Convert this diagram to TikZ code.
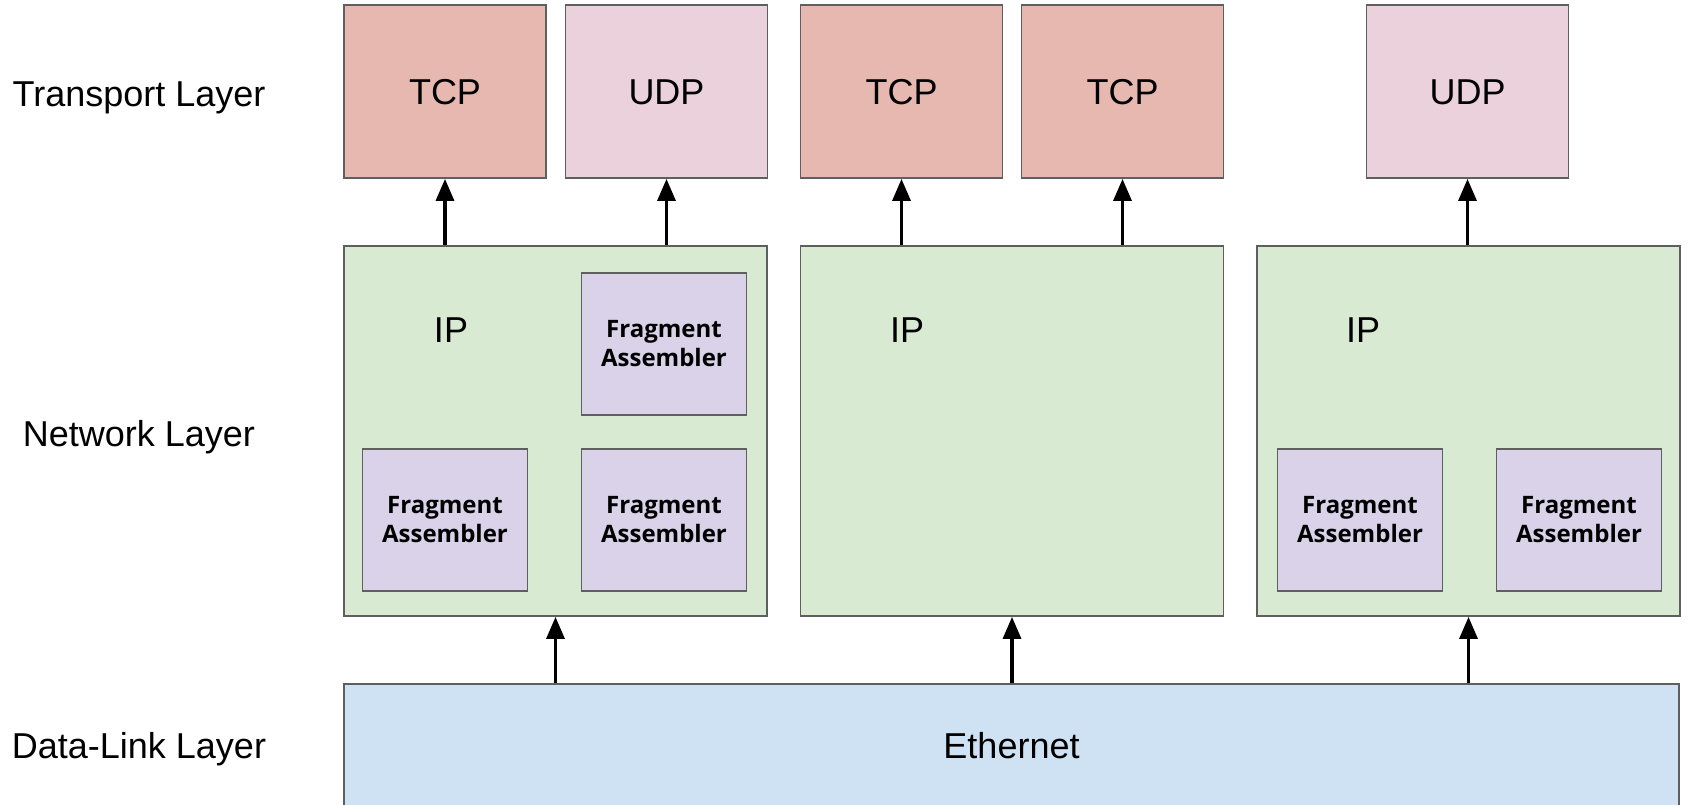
\documentclass[tikz,border=0pt]{standalone}
\usepackage{fontspec}
\setmainfont{Liberation Sans}
\newfontfamily\fafont{Open Sans}
\usetikzlibrary{arrows.meta}
\definecolor{tcpfill}{HTML}{E6B8AF}
\definecolor{udpfill}{HTML}{EAD1DC}
\definecolor{ipfill}{HTML}{D9EAD3}
\definecolor{fafill}{HTML}{D9D2E9}
\definecolor{ethfill}{HTML}{CFE2F3}
\definecolor{edge}{HTML}{5F5F5F}
\tikzset{
  capcentre/.style={text height=25.8pt, text depth=0pt},
  box/.style={draw=edge, line width=1.8pt, inner sep=0pt, capcentre,
    font=\fontsize{36}{40}\selectfont},
  tcpbox/.style={box, fill=tcpfill, minimum width=202pt, minimum height=173pt},
  udpbox/.style={box, fill=udpfill, minimum width=202pt, minimum height=173pt},
  ipbox/.style={box, fill=ipfill, minimum width=423pt, minimum height=370pt},
  fabox/.style={draw=edge, line width=1.8pt, inner sep=0pt, fill=fafill,
    minimum width=165pt, minimum height=142pt,
    align=center, font=\fafont\bfseries\fontsize{24}{29}\selectfont},
  lbl/.style={inner sep=0pt, capcentre, font=\fontsize{36}{40}\selectfont},
  arr/.style={line width=3.2pt, -{Triangle[length=22pt,width=18pt]}}
}
\begin{document}
\begin{tikzpicture}[x=1pt,y=-1pt]
\useasboundingbox (0,0) rectangle (1688,805);

% layer captions
\node[lbl] (ltr) at (139,94) {Transport Layer};
\node[lbl] (lnw) at (139,434) {Network Layer};
\node[lbl] (ldl) at (139,746) {Data-Link Layer};

% transport layer
\node[tcpbox] (tcp1) at (445,91.5) {TCP};
\node[udpbox] (udp1) at (666.5,91.5) {UDP};
\node[tcpbox] (tcp2) at (901.5,91.5) {TCP};
\node[tcpbox] (tcp3) at (1122.5,91.5) {TCP};
\node[udpbox] (udp2) at (1467.5,91.5) {UDP};

% network layer
\node[ipbox] (ip1) at (555.5,431) {};
\node[ipbox] (ip2) at (1012,431) {};
\node[ipbox] (ip3) at (1468.5,431) {};
\node[lbl] (ip1t) at (451,330) {IP};
\node[lbl] (ip2t) at (907,330) {IP};
\node[lbl] (ip3t) at (1363,330) {IP};

% fragment assemblers
\node[fabox] (fa1) at (664,344) {Fragment\\Assembler};
\node[fabox] (fa2) at (445,520) {Fragment\\Assembler};
\node[fabox] (fa3) at (664,520) {Fragment\\Assembler};
\node[fabox] (fa4) at (1360,520) {Fragment\\Assembler};
\node[fabox] (fa5) at (1579,520) {Fragment\\Assembler};

% data-link layer
\node[box, fill=ethfill, minimum width=1335pt, minimum height=124pt] (eth) at (1011.5,746) {Ethernet};

% connectors
\draw[arr] (ip1.north -| tcp1.south) -- (tcp1.south);
\draw[arr] (ip1.north -| udp1.south) -- (udp1.south);
\draw[arr] (ip2.north -| tcp2.south) -- (tcp2.south);
\draw[arr] (ip2.north -| tcp3.south) -- (tcp3.south);
\draw[arr] (ip3.north -| udp2.south) -- (udp2.south);
\draw[arr] (eth.north -| ip1.south) -- (ip1.south);
\draw[arr] (eth.north -| ip2.south) -- (ip2.south);
\draw[arr] (eth.north -| ip3.south) -- (ip3.south);
\end{tikzpicture}
\end{document}
